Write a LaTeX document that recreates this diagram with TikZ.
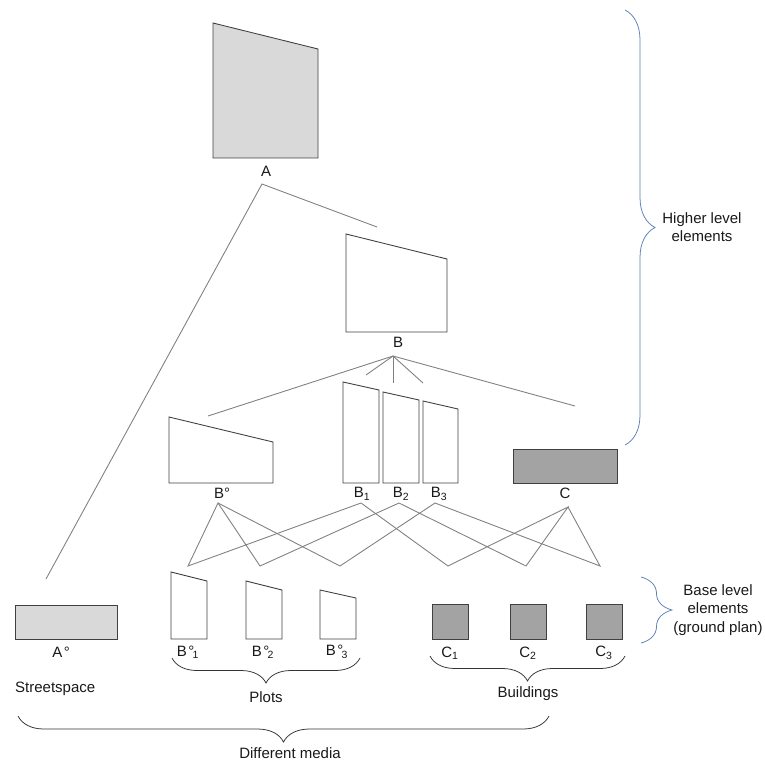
\documentclass[tikz,border=0pt]{standalone}
\usepackage{fontspec}
\setmainfont{Liberation Sans}
\usetikzlibrary{decorations.pathreplacing}
\definecolor{lightfill}{HTML}{D9D9D9}
\definecolor{darkfill}{HTML}{A3A3A3}
\definecolor{linkgray}{HTML}{808080}
\definecolor{levelblue}{HTML}{5B80B2}
\tikzset{
  outline/.style={draw=black!75, line width=0.75pt},
  link/.style={draw=linkgray, line width=0.75pt},
  lbl/.style={font=\fontsize{12.8}{15.5}\selectfont, text=black!90, inner sep=0pt},
  grpbrace/.style={decorate, decoration={brace, amplitude=#1}, draw=black!80, line width=0.65pt},
  lvlbrace/.style={decorate, decoration={brace, amplitude=#1}, draw=levelblue, line width=0.65pt},
}
% fill, left x, right x, top-left y, top-right y, bottom y
\newcommand{\drawBlock}[6]{
  \draw[outline, fill=#1] (#2,#6) -- (#2,#4) -- (#3,#5) -- (#3,#6) -- cycle;
}
\newcommand{\plotLabel}[1]{B\kern0.1em°\kern-0.12em\textsubscript{#1}}

\begin{document}
\begin{tikzpicture}[x=0.03cm, y=-0.03cm]
  \useasboundingbox (0,0) rectangle (765,765);

  % higher level elements
  \drawBlock{lightfill}{213}{318}{23}{49}{158}
  \node[lbl] (labA) at (266,171) {A};
  \drawBlock{white}{346}{447}{234}{259}{332}
  \node[lbl] (labB) at (398,342) {B};
  \drawBlock{white}{169}{273}{417}{442}{483}
  \node[lbl] (labBo) at (222,493) {B°};
  \drawBlock{white}{343}{379}{382}{390}{483}
  \node[lbl] (labB1) at (362,494) {B\textsubscript{1}};
  \drawBlock{white}{383}{419}{392}{400}{483}
  \node[lbl] (labB2) at (401,494) {B\textsubscript{2}};
  \drawBlock{white}{423}{458}{401}{409}{483}
  \node[lbl] (labB3) at (439,494) {B\textsubscript{3}};
  \drawBlock{darkfill}{513}{617}{449}{449}{483}
  \node[lbl] (labC) at (565,493) {C};

  % base level elements
  \drawBlock{lightfill}{15}{117}{605}{605}{639}
  \node[lbl] (labAo) at (61,652) {A\kern0.1em°};
  \drawBlock{white}{171}{207}{572}{581}{639}
  \node[lbl] (labBo1) at (188,652) {\plotLabel{1}};
  \drawBlock{white}{246}{282}{581}{590}{639}
  \node[lbl] (labBo2) at (263,652) {\plotLabel{2}};
  \drawBlock{white}{320}{356}{590}{598}{639}
  \node[lbl] (labBo3) at (337,652) {\plotLabel{3}};
  \foreach \cx/\i in {432/1, 510/2, 586/3} {
    \drawBlock{darkfill}{\cx}{\cx+36}{604}{604}{639}
    \node[lbl] (labC\i) at (\cx+18,653) {C\textsubscript{\i}};
  }

  % connectors
  \coordinate (topA) at (262,184);
  \coordinate (endAo) at (46,579);
  \coordinate (endB) at (377,227);
  \coordinate (topB) at (393,356);
  \coordinate (endBo) at (208,416);
  \coordinate (endC) at (575,406);
  \coordinate (tick1) at (366,375);
  \coordinate (tick2) at (393,383);
  \coordinate (tick3) at (423,383);
  \draw[link] (endAo) -- (topA) -- (endB);
  \draw[link] (endBo) -- (topB) -- (endC);
  \foreach \t in {1,2,3} \draw[link] (topB) -- (tick\t);

  \coordinate (topBo) at (218,503);
  \coordinate (topB1) at (361,503);
  \coordinate (topB2) at (399,503);
  \coordinate (topB3) at (435,503);
  \coordinate (topC) at (568,507);
  \coordinate (v1) at (188,566);
  \coordinate (v2) at (260,566);
  \coordinate (v3) at (340,566);
  \coordinate (v4) at (448,566);
  \coordinate (v5) at (526,566);
  \coordinate (v6) at (600,566);
  \draw[link] (topB1) -- (v1) -- (topBo) -- (v2) -- (topB2);
  \draw[link] (topBo) -- (v3) -- (topB3);
  \draw[link] (topB1) -- (v4) -- (topC) -- (v5) -- (topB2);
  \draw[link] (topB3) -- (v6) -- (topC);

  % groups
  \node[lbl, anchor=west] (street) at (15,689) {Streetspace};
  \draw[grpbrace=0.75cm] (360,658) -- (172,658);
  \node[lbl] (plots) at (266,697) {Plots};
  \draw[grpbrace=0.75cm] (625,656) -- (430,656);
  \node[lbl] (build) at (528,694) {Buildings};
  \draw[grpbrace=0.78cm] (549,716) -- (18,716);
  \node[lbl] (media) at (290,753) {Different media};

  % levels
  \draw[lvlbrace=0.9cm] (625,10) -- (625,445);
  \node[lbl, align=center] (higher) at (702,227) {Higher level\\elements};
  \draw[lvlbrace=0.93cm] (641,577) -- (641,643);
  \node[lbl, align=center] (base) at (718,610) {Base level\\elements\\(ground plan)};
\end{tikzpicture}
\end{document}
